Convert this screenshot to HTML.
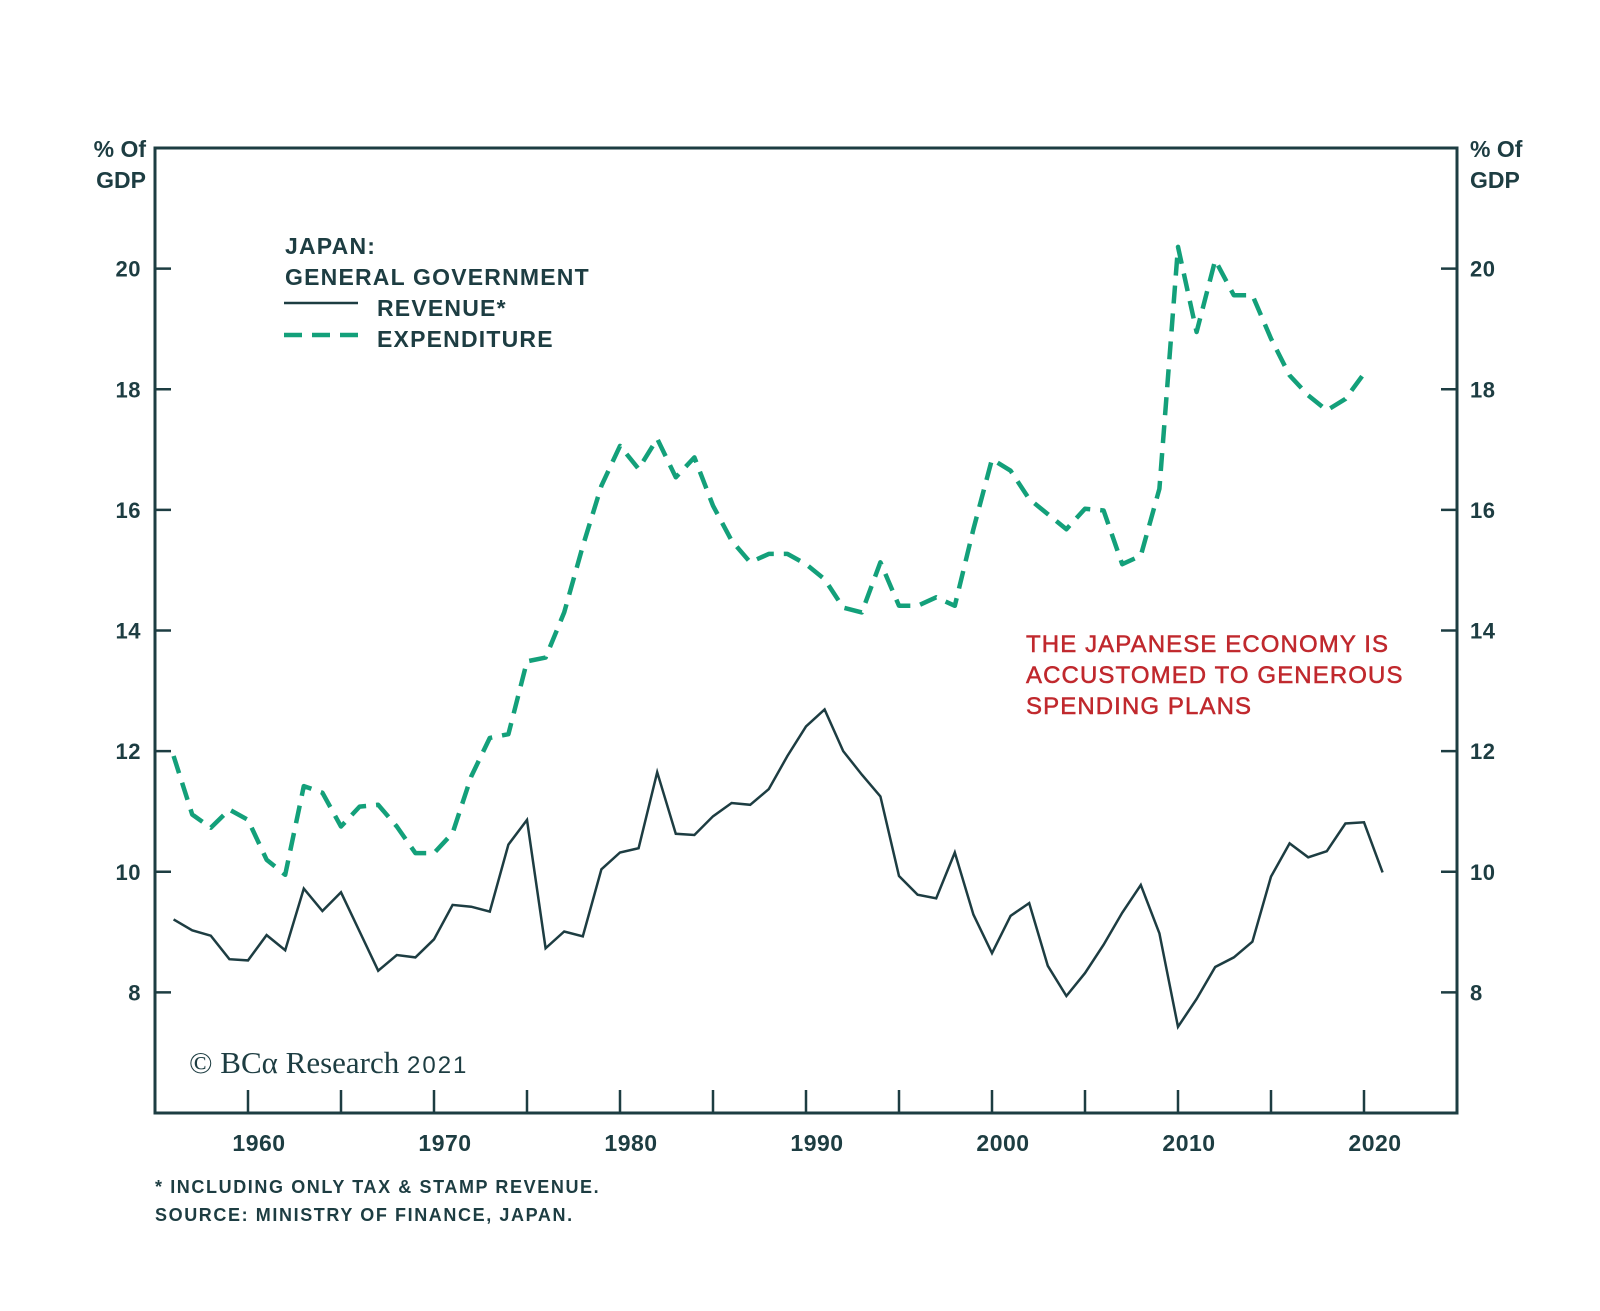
<!DOCTYPE html>
<html><head><meta charset="utf-8"><style>
body{margin:0;background:#fff;}
svg{display:block;font-family:"Liberation Sans",sans-serif;}
</style></head><body>
<svg id="chart" width="1600" height="1311" viewBox="0 0 1600 1311">
<g id="axes"></g>
<g id="series"></g>
<g font-weight="bold" fill="#1d3d42" font-size="23" letter-spacing="1.2">
<text x="285" y="254">JAPAN:</text>
<text x="285" y="285">GENERAL GOVERNMENT</text>
<line x1="284" y1="303" x2="358" y2="303" stroke="#1d3d42" stroke-width="2.5"/>
<text x="377" y="316">REVENUE*</text>
<line x1="284" y1="335" x2="358" y2="335" stroke="#13a07a" stroke-width="4.5" stroke-dasharray="18,10"/>
<text x="377" y="347">EXPENDITURE</text>
</g>
<g font-size="24" fill="#c0282d" stroke="#c0282d" stroke-width="0.5" letter-spacing="1.1">
<text x="1026" y="652">THE JAPANESE ECONOMY IS</text>
<text x="1026" y="683">ACCUSTOMED TO GENEROUS</text>
<text x="1026" y="714">SPENDING PLANS</text>
</g>
<text x="189" y="1073" font-family="'Liberation Serif',serif" font-size="31" fill="#1d3d42">© BCα Research <tspan font-family="'Liberation Sans',sans-serif" font-size="24" letter-spacing="2">2021</tspan></text>
<g font-weight="bold" font-size="18" fill="#1d3d42" letter-spacing="1.6">
<text x="155" y="1193">* INCLUDING ONLY TAX &amp; STAMP REVENUE.</text>
<text x="155" y="1221">SOURCE: MINISTRY OF FINANCE, JAPAN.</text>
</g>
</svg>
<script>
const revenueStart = 1956;
const revenue = [9.21,9.03,8.94,8.55,8.53,8.95,8.70,9.72,9.35,9.66,9.01,8.36,8.62,8.58,8.88,9.45,9.42,9.34,10.45,10.86,8.73,9.01,8.93,10.04,10.32,10.39,11.65,10.63,10.61,10.92,11.14,11.11,11.37,11.92,12.41,12.69,12.0,11.61,11.25,9.93,9.62,9.56,10.32,9.29,8.65,9.27,9.48,8.44,7.94,8.32,8.79,9.32,9.78,8.98,7.43,7.89,8.42,8.58,8.84,9.92,10.47,10.24,10.34,10.80,10.82,9.99];
const expenditureStart = 1956;
const expenditure = [11.92,10.95,10.73,11.03,10.86,10.20,9.95,11.42,11.31,10.75,11.08,11.11,10.75,10.31,10.31,10.64,11.58,12.22,12.28,13.49,13.55,14.30,15.40,16.40,17.06,16.68,17.18,16.54,16.87,16.07,15.49,15.13,15.27,15.27,15.10,14.85,14.38,14.30,15.13,14.41,14.41,14.55,14.41,15.68,16.84,16.65,16.18,15.93,15.68,16.02,15.99,15.10,15.24,16.35,20.36,18.95,20.14,19.56,19.56,18.84,18.23,17.90,17.65,17.84,18.26];
const yTicks = [8,10,12,14,16,18,20];
const xTickYears = [1960,1965,1970,1975,1980,1985,1990,1995,2000,2005,2010,2015,2020];
const xLabels = [1960,1970,1980,1990,2000,2010,2020];

const L=155,R=1457,T=148,B=1113,X0=1955,X1=2025,Y0=6,Y1=22;
const C='#1d3d42';
function xs(yr){return L+(yr-X0)/(X1-X0)*(R-L);}
function ys(v){return B-(v-Y0)/(Y1-Y0)*(B-T);}
const NS='http://www.w3.org/2000/svg';
function mk(tag,attrs,parent){const e=document.createElementNS(NS,tag);for(const k in attrs)e.setAttribute(k,attrs[k]);parent.appendChild(e);return e;}
const axes=document.getElementById('axes');
const series=document.getElementById('series');

const frame=mk('rect',{x:L,y:T,width:R-L,height:B-T,fill:'none',stroke:C,'stroke-width':3},axes);



yTicks.forEach(v=>{
  const y=ys(v);
  const t1=mk('line',{x1:L,y1:y,x2:L+16,y2:y,stroke:C,'stroke-width':2.5},axes);
  
  
  const t2=mk('line',{x1:R-16,y1:y,x2:R,y2:y,stroke:C,'stroke-width':2.5},axes);
  
  
  const l1=mk('text',{x:141,y:y+8,'text-anchor':'end','font-size':22,'font-weight':'bold',fill:C,'letter-spacing':0.5},axes);
  l1.textContent=v;
  
  
  const l2=mk('text',{x:1470,y:y+8,'font-size':22,'font-weight':'bold',fill:C,'letter-spacing':0.5},axes);
  l2.textContent=v;
  
  
});
[['end',146],['start',1470]].forEach(([a,x],i)=>{
  const g=mk('text',{x:x,y:157,'text-anchor':a,'font-size':23,'font-weight':'bold',fill:C},axes);
  
  
  const s1=mk('tspan',{x:x,dy:0},g);s1.textContent='% Of';
  const s2=mk('tspan',{x:x,dy:31},g);s2.textContent='GDP';
});
xTickYears.forEach(yr=>{
  const x=xs(yr);
  const t=mk('line',{x1:x,y1:B,x2:x,y2:B-23,stroke:C,'stroke-width':2.5},axes);
  
  
});
xLabels.forEach(yr=>{
  const t=mk('text',{x:xs(yr)+11,y:1151,'text-anchor':'middle','font-size':23,'font-weight':'bold',fill:C,'letter-spacing':0.5},axes);
  t.textContent=yr;
  
  
});

const ePts=expenditure.map((v,i)=>xs(expenditureStart+i).toFixed(1)+','+ys(v).toFixed(1)).join(' ');
const eLine=mk('polyline',{points:ePts,fill:'none',stroke:'#13a07a','stroke-width':4.5,'stroke-dasharray':'18,10','stroke-linejoin':'round'},series);


const rPts=revenue.map((v,i)=>xs(revenueStart+i).toFixed(1)+','+ys(v).toFixed(1)).join(' ');
const rLine=mk('polyline',{points:rPts,fill:'none',stroke:C,'stroke-width':2.5,'stroke-linejoin':'miter'},series);


</script>
</body></html>
